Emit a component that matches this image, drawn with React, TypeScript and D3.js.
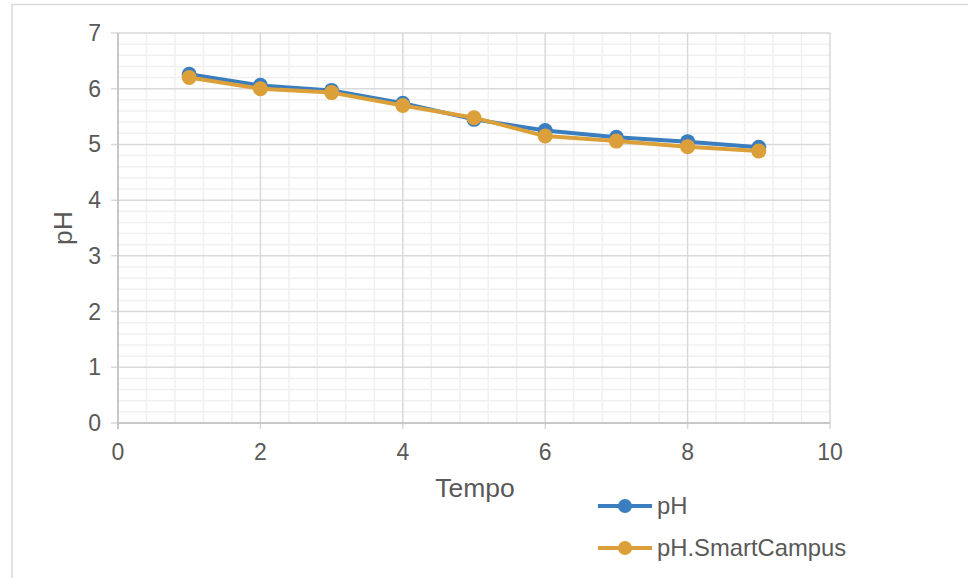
import React from "react";
import * as d3 from "d3";

const tempo = [1, 2, 3, 4, 5, 6, 7, 8, 9];
const phValues = [6.26, 6.06, 5.97, 5.74, 5.45, 5.25, 5.13, 5.05, 4.95];
const phSmartCampus = [6.2, 6.0, 5.93, 5.7, 5.48, 5.15, 5.06, 4.96, 4.88];
const xTicks = [0, 2, 4, 6, 8, 10];
const yTicks = [0, 1, 2, 3, 4, 5, 6, 7];
const seriesNames = ["pH", "pH.SmartCampus"];
const seriesColors = ["#3A7EBF", "#DCA03A"];

export default function App() {
  const W = 968, H = 578;
  const x = d3.scaleLinear().domain([0, 10]).range([118, 830]);
  const y = d3.scaleLinear().domain([0, 7]).range([423, 33]);
  const minorX = d3.range(0, 10.001, 0.4).filter((v) => Math.abs(v / 2 - Math.round(v / 2)) > 1e-6);
  const minorY = d3.range(0, 7.001, 0.2).filter((v) => Math.abs(v - Math.round(v)) > 1e-6);
  const line = d3.line<[number, number]>().x((d) => x(d[0])).y((d) => y(d[1]));
  const data = [phValues, phSmartCampus].map((vals) => tempo.map((t, i) => [t, vals[i]] as [number, number]));
  const font = "Liberation Sans, Arial, sans-serif";
  const textColor = "#595959";
  return (
    <svg width={W} height={H} style={{ position: "absolute", left: 0, top: 0, background: "#fff" }}>
      <rect x={0} y={0} width={W} height={H} fill="#fff" />
      <path d={`M12,${H} L12,4.5 L${W},4.5`} fill="none" stroke="#d9d9d9" strokeWidth={1.5} />
      {minorY.map((v) => (
        <line key={"my" + v} x1={x(0)} x2={x(10)} y1={y(v)} y2={y(v)} stroke="#f0f0f0" strokeWidth={1.5} />
      ))}
      {minorX.map((v) => (
        <line key={"mx" + v} x1={x(v)} x2={x(v)} y1={y(0)} y2={y(7)} stroke="#f0f0f0" strokeWidth={1.5} />
      ))}
      {yTicks.map((v) => (
        <line key={"gy" + v} x1={x(0) - 7} x2={x(10)} y1={y(v)} y2={y(v)} stroke="#d9d9d9" strokeWidth={1.5} />
      ))}
      {xTicks.map((v) => (
        <line key={"gx" + v} x1={x(v)} x2={x(v)} y1={y(0) + 6} y2={y(7)} stroke="#d9d9d9" strokeWidth={1.5} />
      ))}
      <line x1={x(0)} x2={x(10)} y1={y(0)} y2={y(0)} stroke="#bfbfbf" strokeWidth={1.5} />
      <line x1={x(0)} x2={x(0)} y1={y(0) + 6} y2={y(7)} stroke="#bfbfbf" strokeWidth={1.5} />
      {yTicks.map((v) => (
        <text key={"ty" + v} x={101} y={y(v)} dy="0.35em" textAnchor="end" fontFamily={font} fontSize={23} fill={textColor}>
          {v}
        </text>
      ))}
      {xTicks.map((v) => (
        <text key={"tx" + v} x={x(v)} y={460} textAnchor="middle" fontFamily={font} fontSize={23} fill={textColor}>
          {v}
        </text>
      ))}
      <text x={475} y={497} textAnchor="middle" fontFamily={font} fontSize={26.5} fill={textColor}>Tempo</text>
      <text transform={`translate(72,228) rotate(-90)`} textAnchor="middle" fontFamily={font} fontSize={26.5} fill={textColor}>pH</text>
      {data.map((d, i) => (
        <g key={"s" + i}>
          <path d={line(d) || ""} fill="none" stroke={seriesColors[i]} strokeWidth={4} strokeLinejoin="round" />
          {d.map((p, j) => (
            <circle key={j} cx={x(p[0])} cy={y(p[1])} r={7.5} fill={seriesColors[i]} />
          ))}
        </g>
      ))}
      {seriesNames.map((name, i) => {
        const ly = 506 + i * 42;
        return (
          <g key={"l" + i}>
            <line x1={598} x2={652} y1={ly} y2={ly} stroke={seriesColors[i]} strokeWidth={4} />
            <circle cx={625} cy={ly} r={7} fill={seriesColors[i]} />
            <text x={657} y={ly} dy="0.35em" fontFamily={font} fontSize={23.8} fill={textColor}>{name}</text>
          </g>
        );
      })}
    </svg>
  );
}
